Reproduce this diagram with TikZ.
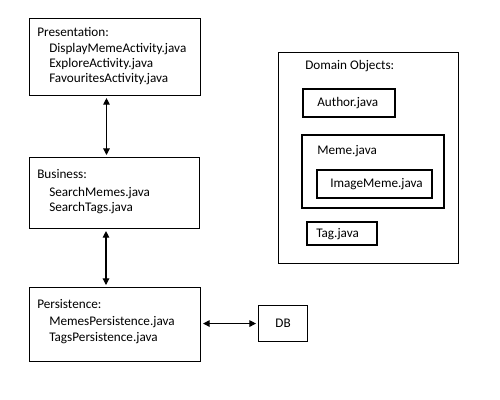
\documentclass[tikz,border=0pt]{standalone}
\usepackage{fontspec}
\setmainfont{Carlito}
\usetikzlibrary{arrows.meta}
\begin{document}
\begin{tikzpicture}[x=0.75pt,y=-0.75pt,
  thinbox/.style={draw,line width=0.8pt,inner sep=0pt,anchor=north west},
  thickbox/.style={draw,line width=1.6pt,inner sep=0pt,anchor=north west},
  lbl/.style={anchor=base west,inner sep=0pt,font=\fontsize{9.9pt}{12pt}\selectfont},
  arr/.style={{Triangle[length=5pt,width=5pt]}-{Triangle[length=5pt,width=5pt]},line width=0.8pt,shorten <=1.5pt,shorten >=1.5pt}]
\useasboundingbox (0,0) rectangle (500,400);
% left column
\node[thinbox,minimum width=171*0.75pt,minimum height=77*0.75pt] (pres) at (29,18) {};
\node[lbl] (pres1) at (37,36) {Presentation:};
\node[lbl] (pres2) at (49,52) {DisplayMemeActivity.java};
\node[lbl] (pres3) at (49,67) {ExploreActivity.java};
\node[lbl] (pres4) at (49,82) {FavouritesActivity.java};

\node[thinbox,minimum width=170*0.75pt,minimum height=71*0.75pt] (bus) at (29,157) {};
\node[lbl] (bus1) at (37,178) {Business:};
\node[lbl] (bus2) at (49,196) {SearchMemes.java};
\node[lbl] (bus3) at (49,211) {SearchTags.java};

\node[thinbox,minimum width=171*0.75pt,minimum height=74*0.75pt] (pers) at (29,287) {};
\node[lbl] (pers1) at (37,308) {Persistence:};
\node[lbl] (pers2) at (49,325) {MemesPersistence.java};
\node[lbl] (pers3) at (49,341) {TagsPersistence.java};

\node[thinbox,minimum width=49*0.75pt,minimum height=36*0.75pt] (db) at (258,305) {};
\node[lbl,anchor=center] (dbt) at (db.center) {DB};

\draw[arr] ([xshift=-6.4pt]pres.south) -- ([xshift=-6.4pt]pres.south |- bus.north);
\draw[arr] ([xshift=-6.4pt]bus.south) -- ([xshift=-6.4pt]bus.south |- pers.north);
\draw[arr] (pers.east |- db.west) -- (db.west);

% domain objects
\node[thinbox,minimum width=180*0.75pt,minimum height=211*0.75pt] (dom) at (278,52) {};
\node[lbl] (domt) at (305,69) {Domain Objects:};
\node[thickbox,minimum width=92*0.75pt,minimum height=28*0.75pt] (auth) at (302,88) {};
\node[lbl] (autht) at (317,106) {Author.java};
\node[thickbox,minimum width=142*0.75pt,minimum height=73*0.75pt] (meme) at (301,134) {};
\node[lbl] (memet) at (317,154) {Meme.java};
\node[thickbox,minimum width=115*0.75pt,minimum height=28*0.75pt] (img) at (316,169) {};
\node[lbl] (imgt) at (330,187) {ImageMeme.java};
\node[thickbox,minimum width=70*0.75pt,minimum height=23*0.75pt] (tag) at (306,221) {};
\node[lbl] (tagt) at (316,237) {Tag.java};
\end{tikzpicture}
\end{document}
